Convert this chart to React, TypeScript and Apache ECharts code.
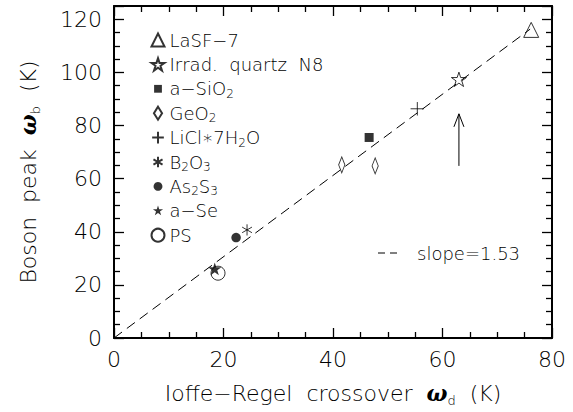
import React, { useEffect, useRef } from "react";
import * as echarts from "echarts";

// ---- data ----
const seriesNames = [
  "LaSF-7",
  "Irrad. quartz N8",
  "a-SiO2",
  "GeO2",
  "LiCl*7H2O",
  "B2O3",
  "As2S3",
  "a-Se",
  "PS",
];
const lasf7 = [[76.2, 116.0]];
const quartzN8 = [[63.0, 97.4]];
const aSiO2 = [[46.6, 75.5]];
const geO2 = [[41.6, 65.2], [47.7, 64.8]];
const liCl = [[55.4, 86.3]];
const b2o3 = [[24.3, 40.7]];
const as2s3 = [[22.3, 37.8]];
const aSe = [[18.4, 25.9]];
const ps = [[19.0, 24.4]];
const slope = 1.53;
const slopeLineX = [0, 76];
const arrowData = [[63, 64.8, 84.4]]; // x, yStart, yEnd
const xTicks = { min: 0, max: 80, interval: 20 };
const yTicks = { min: 0, max: 125, interval: 20 };

const FONT = "DejaVu Sans";

const PAD = "M0,0 M100,100 ";
const STAR_OPEN = "path://M50,2 L61,36 L97,36 L68,57 L79,92 L50,71 L21,92 L32,57 L3,36 L39,36 Z";
const STAR_FILLED = "path://M-10,-10 M110,110 M50,2 L61,36 L97,36 L68,57 L79,92 L50,71 L21,92 L32,57 L3,36 L39,36 Z";
const PLUS = "path://" + PAD + "M5,50 L95,50 M50,5 L50,95";
const ASTER = "path://" + PAD + "M50,10 L50,90 M15,30 L85,70 M15,70 L85,30";
const SQUARE = "path://" + PAD + "M20,20 L80,20 L80,80 L20,80 Z";
const DOT = "path://" + PAD + "M50,16 A34,34 0 1 1 49.99,16 Z";
const DIAMOND = "path://M5,0 L10,8 L5,16 L0,8 Z";

const legendRich: Record<string, string> = {
  "LaSF-7": "{n|LaSF−7}",
  "Irrad. quartz N8": "{n|Irrad.  quartz  N8}",
  "a-SiO2": "{n|a−SiO}{s|2}",
  "GeO2": "{n|GeO}{s|2}",
  "LiCl*7H2O": "{n|LiCl∗7H}{s|2}{n|O}",
  "B2O3": "{n|B}{s|2}{n|O}{s|3}",
  "As2S3": "{n|As}{s|2}{n|S}{s|3}",
  "a-Se": "{n|a−Se}",
  "PS": "{n|PS}",
};

export default function App() {
  const ref = useRef<HTMLDivElement>(null);
  useEffect(() => {
    document.body.style.margin = "0";
    const chart = echarts.init(ref.current!, null, { renderer: "svg" });
    const open = { color: "none", borderColor: "#000", borderWidth: 1 };
    const filled = { color: "#000", borderColor: "#000", borderWidth: 0 };
    const mk = (name: string, data: number[][], symbol: string, size: any, style: any) => ({
      type: "scatter",
      name,
      data,
      symbol,
      symbolSize: size,
      symbolKeepAspect: true,
      itemStyle: style,
      z: 5,
    });
    const axisCommon = () => ({
      splitLine: { show: false },
      axisLine: { show: true, onZero: false, lineStyle: { color: "#000", width: 2 } },
      axisTick: { show: true, inside: true, length: 10, lineStyle: { color: "#000", width: 1.3 } },
      minorTick: { show: true, splitNumber: 4, length: 6, lineStyle: { color: "#000", width: 1.3 } },
    });
    const tickLabel = { fontFamily: FONT, fontSize: 22, color: "#000", fontWeight: 200 };
    const nameRich = {
      t: { fontFamily: FONT, fontSize: 22, color: "#000", fontWeight: 200, lineHeight: 28 },
      w: { fontFamily: "DejaVu Serif", fontSize: 22, color: "#000", fontWeight: "bold", fontStyle: "italic", lineHeight: 28 },
      s: { fontFamily: FONT, fontSize: 13, color: "#000", fontWeight: 200, lineHeight: 14, verticalAlign: "bottom" },
    };
    chart.setOption({
      animation: false,
      grid: { left: 114, right: 21, top: 6, bottom: 69 },
      xAxis: [
        {
          type: "value",
          ...xTicks,
          position: "bottom",
          ...axisCommon(),
          axisLabel: { ...tickLabel, margin: 10 },
          name: "{t|Ioffe−Regel  crossover  }{w|ω}{s|d}{t|  (K)}",
          nameLocation: "middle",
          nameGap: 41,
          nameTextStyle: { rich: nameRich },
        },
        {
          type: "value",
          ...xTicks,
          position: "top",
          ...axisCommon(),
          axisLabel: { show: false },
        },
      ],
      yAxis: [
        {
          type: "value",
          ...yTicks,
          position: "left",
          ...axisCommon(),
          axisLabel: { ...tickLabel, margin: 12 },
          name: "{t|Boson  peak  }{w|ω}{s|b}{t|  (K)}",
          nameLocation: "middle",
          nameRotate: 90,
          nameGap: 72,
          nameTextStyle: { rich: nameRich },
        },
        {
          type: "value",
          ...yTicks,
          position: "right",
          ...axisCommon(),
          axisLabel: { show: false },
        },
      ],
      legend: {
        data: seriesNames,
        orient: "vertical",
        left: 144,
        top: 24,
        itemWidth: 13,
        itemHeight: 13,
        itemGap: 2.4,
        formatter: (name: string) => legendRich[name] || name,
        textStyle: {
          fontFamily: FONT,
          fontSize: 18,
          color: "#000",
          lineHeight: 22,
          rich: {
            n: { fontFamily: FONT, fontSize: 18, color: "#000", fontWeight: 200, lineHeight: 22 },
            s: { fontFamily: FONT, fontSize: 12, color: "#000", fontWeight: 200, lineHeight: 12, verticalAlign: "bottom" },
          },
        },
        selectedMode: false,
      },
      series: [
        mk("LaSF-7", lasf7, "triangle", 15, open),
        mk("Irrad. quartz N8", quartzN8, STAR_OPEN, 15, open),
        mk("a-SiO2", aSiO2, SQUARE, 15, filled),
        mk("GeO2", geO2, DIAMOND, [10, 16], open),
        mk("LiCl*7H2O", liCl, PLUS, 15, open),
        mk("B2O3", b2o3, ASTER, 14, open),
        mk("As2S3", as2s3, DOT, 14, filled),
        mk("a-Se", aSe, STAR_FILLED, 17, filled),
        mk("PS", ps, "circle", 14, open),
        {
          type: "line",
          name: "fit",
          data: slopeLineX.map((x) => [x, x * slope]),
          symbol: "none",
          lineStyle: { color: "#000", width: 1, type: [10, 6] },
          z: 3,
        },
        {
          type: "custom",
          name: "arrow",
          data: arrowData,
          silent: true,
          renderItem: (params: any, api: any) => {
            const p0 = api.coord([api.value(0), api.value(1)]);
            const p1 = api.coord([api.value(0), api.value(2)]);
            return {
              type: "group",
              children: [
                {
                  type: "line",
                  shape: { x1: p0[0], y1: p0[1], x2: p1[0], y2: p1[1] },
                  style: { stroke: "#000", lineWidth: 1 },
                },
                {
                  type: "polyline",
                  shape: { points: [[p1[0] - 5, p1[1] + 13], [p1[0], p1[1]], [p1[0] + 5, p1[1] + 13]] },
                  style: { stroke: "#000", fill: "none", lineWidth: 1 },
                },
              ],
            };
          },
        },
      ],
      graphic: [
        {
          type: "line",
          shape: { x1: 378, y1: 253, x2: 400, y2: 253 },
          style: { stroke: "#000", lineWidth: 1, lineDash: [7, 5] },
        },
        {
          type: "text",
          x: 417,
          y: 253,
          style: {
            text: "slope=1.53",
            fontFamily: FONT,
            fontSize: 18,
            fontWeight: 200,
            fill: "#000",
            verticalAlign: "middle",
          },
        },
      ],
    });
    return () => chart.dispose();
  }, []);
  return <div ref={ref} style={{ width: 573, height: 412 }} />;
}
